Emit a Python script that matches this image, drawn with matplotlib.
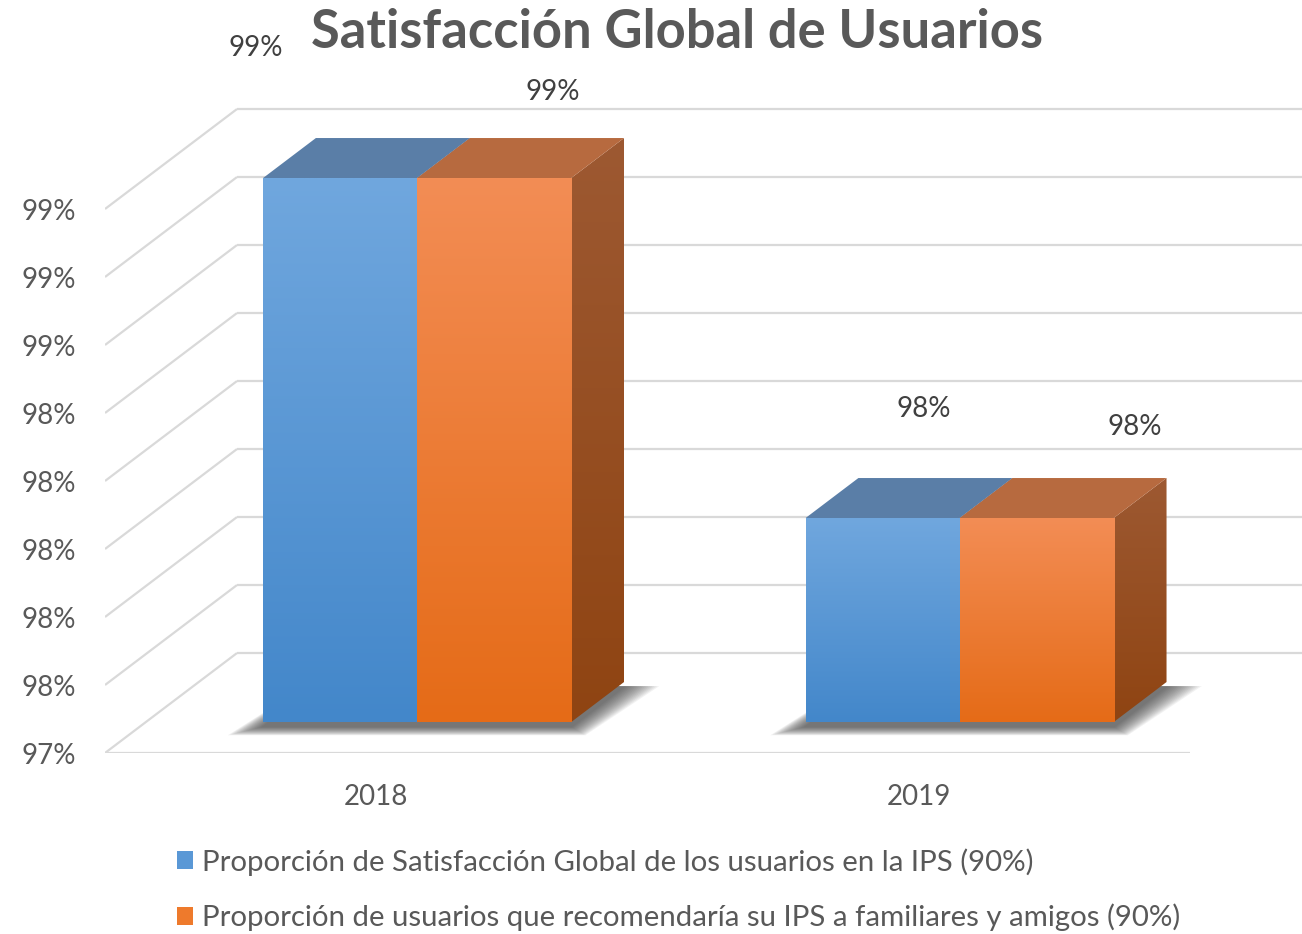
import numpy as np
import matplotlib
matplotlib.use("Agg")
import matplotlib.pyplot as plt
from matplotlib.patches import Polygon, Patch
from matplotlib.colors import LinearSegmentedColormap

# ---------------- data ----------------
categories = ["2018", "2019"]
series_names = [
    "Proporción de Satisfacción Global de los usuarios en la IPS (90%)",
    "Proporción de usuarios que recomendaría su IPS a familiares y amigos (90%)",
]
satisfaccion = [99.0, 98.0]
recomendaria = [99.0, 98.0]
y_ticks = [97.4, 97.6, 97.8, 98.0, 98.2, 98.4, 98.6, 98.8, 99.0]
chart_title = "Satisfacción Global de Usuarios"

# ---------------- style ----------------
W, H, DPI = 1302, 934, 100
plt.rcParams['font.family'] = ['Lato', 'DejaVu Sans']
TXT = '#595959'
GRID = '#D9D9D9'
FS = 20

front_cols = [('#70A7DE', '#4387CA'), ('#F38D55', '#E56B17')]
top_cols = ['#5A7EA7', '#B76A3F']
side_cols = [('#5E83AC', '#3F6E9C'), ('#9D5932', '#8F4412')]
legend_cols = ['#5A98D6', '#EE7A2C']

# label offsets (pixels) relative to bar top-front centre, per (category, series)
label_off_px = [[(-84, 130), (59, 86)], [(41, 109), (98, 91)]]

DX, DY = 0.2433, 0.294       # floor depth vector in data units
F0, F1 = 0.31, 0.71          # bar depth span as fraction of floor depth
BW = 0.284                   # bar width (category units)

fig = plt.figure(figsize=(W / DPI, H / DPI), dpi=DPI)
ax = fig.add_axes([105 / W, (H - 753) / H, (W - 105) / W, 753 / H])
ymin = y_ticks[0]
ymax = ymin + 753 / 340.0
xmin, xmax = -0.5, -0.5 + (W - 105) / 542.5

# ---- walls / gridlines ----
for v in y_ticks:
    ax.plot([xmin, xmin + DX], [v, v + DY], color=GRID, lw=1.6, zorder=1, solid_capstyle='butt')
    ax.plot([xmin + DX, xmax + 0.05], [v + DY, v + DY], color=GRID, lw=1.6, zorder=1,
            clip_on=False, solid_capstyle='butt')
ax.plot([xmin, len(categories) - 0.5], [ymin, ymin], color=GRID, lw=1.6, zorder=1,
        solid_capstyle='butt')

series = [satisfaccion, recomendaria]
d = F1 - F0


def grad_img(x0, x1, y0, y1, ctop, cbot, clip=None, z=3):
    cm = LinearSegmentedColormap.from_list('g', [ctop, cbot])
    arr = np.linspace(0, 1, 256).reshape(-1, 1)
    im = ax.imshow(arr, cmap=cm, extent=(x0, x1, y0, y1), origin='upper',
                   aspect='auto', interpolation='bilinear', zorder=z)
    if clip is not None:
        im.set_clip_path(clip)
    return im


for i, cat in enumerate(categories):
    # soft shadow under each bar group
    gx0 = i - BW + F0 * DX
    gx1 = i + BW + F0 * DX
    yb = ymin + F0 * DY
    n = 16
    for k in range(n):
        e = 0.065 * (1 - k / n)
        ey = 0.025 * (1 - k / n)
        poly = [(gx0 - e, yb - 0.014 - ey), (gx1 + e * 0.4, yb - 0.014 - ey),
                (gx1 + d * DX + e, yb + d * DY - 0.012), (gx0 + d * DX - e * 0.3, yb + d * DY - 0.012)]
        ax.add_patch(Polygon(poly, closed=True, facecolor='#3a3a3a', edgecolor='none',
                             alpha=0.065, zorder=2))

    for j, vals in enumerate(series):
        v = vals[i]
        x0 = i - BW + j * BW + F0 * DX
        x1 = x0 + BW
        yt = v + F0 * DY
        # side face
        side = Polygon([(x1, yb), (x1, yt), (x1 + d * DX, yt + d * DY), (x1 + d * DX, yb + d * DY)],
                       closed=True, facecolor='none', edgecolor='none')
        ax.add_patch(side)
        grad_img(x1, x1 + d * DX, yb, yt + d * DY, side_cols[j][0], side_cols[j][1],
                 clip=side, z=3 + j * 0.1)
        # top face
        ax.add_patch(Polygon([(x0, yt), (x1, yt), (x1 + d * DX, yt + d * DY), (x0 + d * DX, yt + d * DY)],
                             closed=True, facecolor=top_cols[j], edgecolor='none', zorder=3 + j * 0.1))
        # front face
        grad_img(x0, x1, yb, yt, front_cols[j][0], front_cols[j][1], z=3.5 + j * 0.1)
        # data label
        ox, oy = label_off_px[i][j]
        ax.annotate(f"{v:.0f}%", xy=((x0 + x1) / 2, yt), xytext=(ox * 0.72, oy * 0.72),
                    textcoords='offset points', ha='center', va='center', fontsize=FS,
                    color='#404040', annotation_clip=False, zorder=6)

ax.set_xlim(xmin, xmax)
ax.set_ylim(ymin, ymax)
ax.set_yticks(y_ticks)
ax.set_yticklabels([f"{v:.0f}%" for v in y_ticks])
ax.set_xticks(range(len(categories)))
ax.set_xticklabels(categories)
ax.tick_params(axis='y', length=0, pad=21, labelsize=FS, labelcolor=TXT)
ax.tick_params(axis='x', length=0, pad=22, labelsize=FS, labelcolor=TXT)
for s in ax.spines.values():
    s.set_visible(False)
ax.set_facecolor('none')

fig.text(677 / W, 1 - 33 / H, chart_title, ha='center', va='center', fontsize=37.8,
         fontweight='bold', color=TXT)

handles = [Patch(facecolor=c, edgecolor='none') for c in legend_cols]
fig.legend(handles, series_names, loc='upper left', bbox_to_anchor=(177 / W, 1 - 848 / H),
           frameon=False, fontsize=21.2, labelcolor=TXT, handlelength=0.55, handleheight=0.55,
           handletextpad=0.3, labelspacing=0.95, borderpad=0, borderaxespad=0)

fig.savefig('out.png', dpi=DPI)
